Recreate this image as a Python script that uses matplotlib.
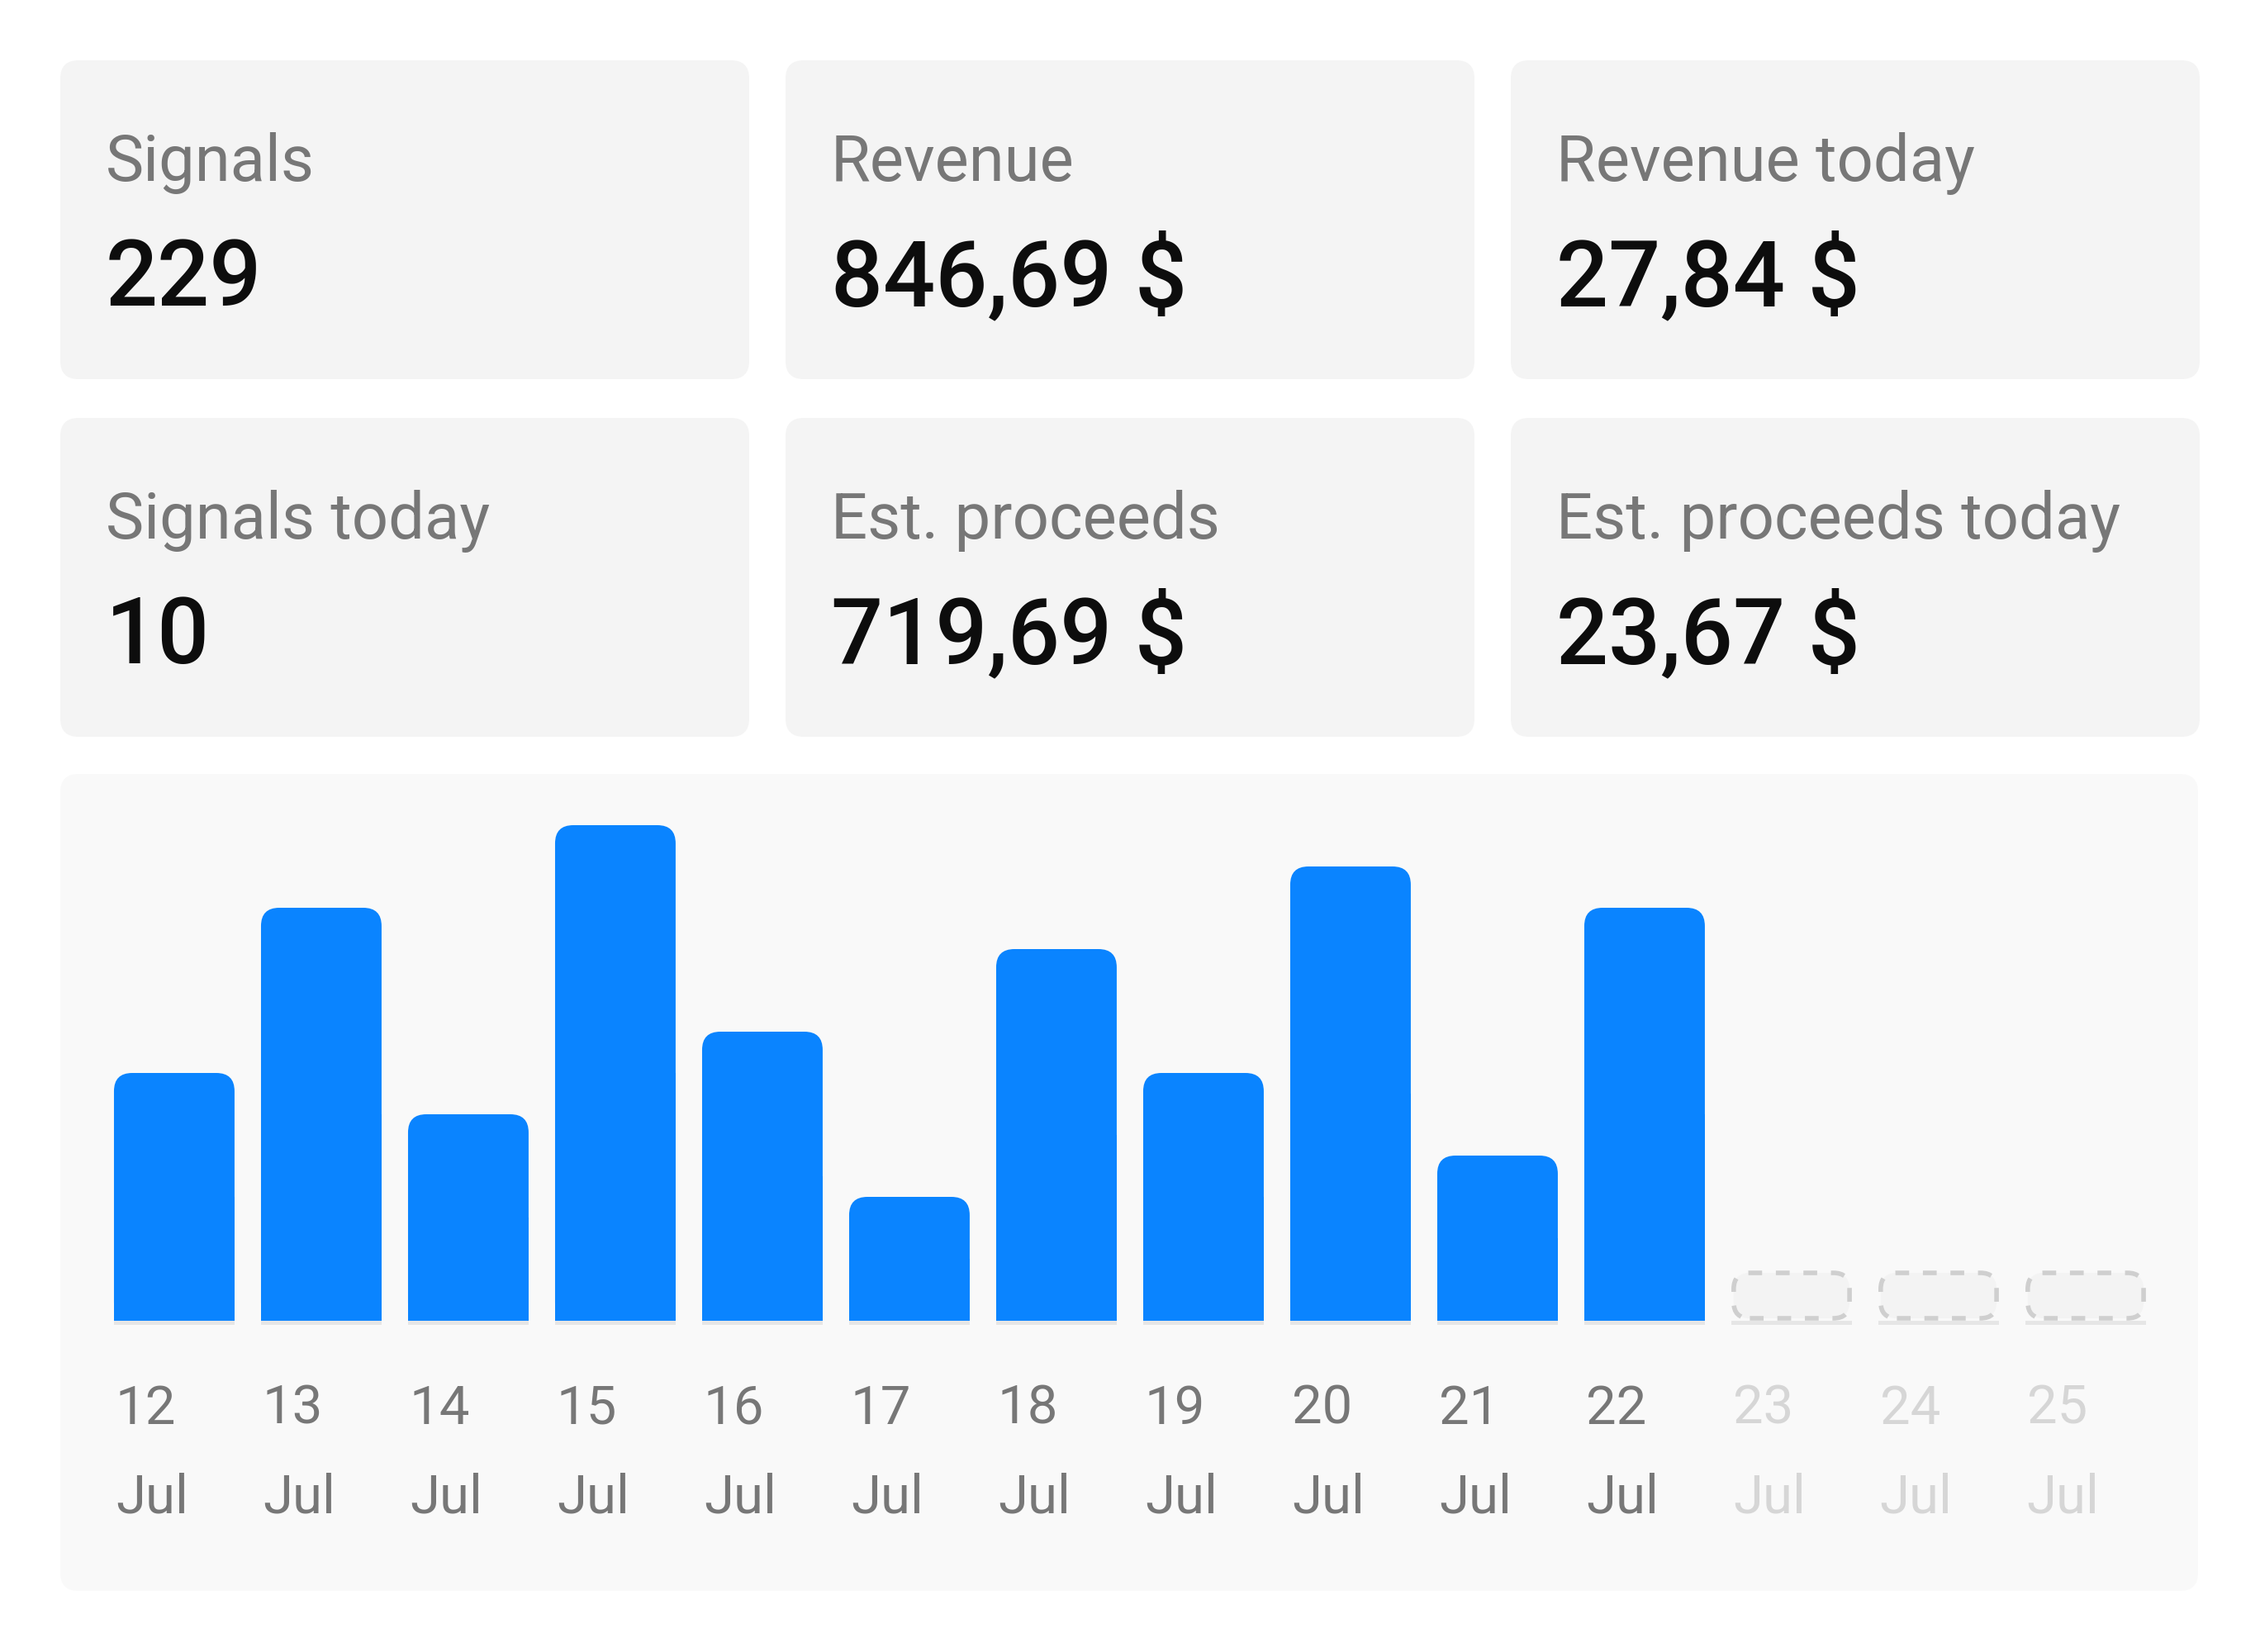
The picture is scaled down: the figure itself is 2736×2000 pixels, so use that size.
import numpy as np
import matplotlib.pyplot as plt
from matplotlib.patches import FancyBboxPatch

plt.rcParams['font.family'] = ['Roboto', 'DejaVu Sans']

# summary cards
card_labels = ['Signals', 'Revenue', 'Revenue today',
               'Signals today', 'Est. proceeds', 'Est. proceeds today']
card_values = ['229', '846,69 $', '27,84 $', '10', '719,69 $', '23,67 $']

# daily signals (days after 22 Jul have no data yet)
days = ['12', '13', '14', '15', '16', '17', '18',
        '19', '20', '21', '22', '23', '24', '25']
month = 'Jul'
signals = [6, 10, 5, 12, 7, 3, 9, 6, 11, 4, 10]

BLUE = '#0a84ff'
W, H = 2736, 2000

fig = plt.figure(figsize=(W / 100, H / 100), dpi=100)
fig.patch.set_facecolor('white')

# background layer in pixel units for the cards and the chart panel
bg = fig.add_axes([0, 0, 1, 1])
bg.set_xlim(0, W)
bg.set_ylim(H, 0)
bg.axis('off')

card_w, card_h = 834, 386
gap_x, gap_y = 44, 47
x0, y0 = 73, 73
for k, (lab, val) in enumerate(zip(card_labels, card_values)):
    r, c = divmod(k, 3)
    cx = x0 + c * (card_w + gap_x)
    cy = y0 + r * (card_h + gap_y)
    bg.add_patch(FancyBboxPatch((cx, cy), card_w, card_h,
                                boxstyle='round,pad=0,rounding_size=22',
                                fc='#f4f4f4', ec='none'))
    bg.text(cx + 55, cy + 146, lab, fontsize=56, color='#777777', va='baseline')
    bg.text(cx + 55, cy + 297, val, fontsize=80, color='#0d0d0d',
            fontweight='medium', va='baseline')

# chart panel
px0, py0, pw, ph = 73, 937, 2588, 989
bg.add_patch(FancyBboxPatch((px0, py0), pw, ph,
                            boxstyle='round,pad=0,rounding_size=22',
                            fc='#f9f9f9', ec='none'))

ax = fig.add_axes([px0 / W, 1 - (py0 + ph) / H, pw / W, ph / H])
ax.patch.set_visible(False)
ax.axis('off')
ax.set_xlim(-0.775, -0.775 + pw / 178)
ax.set_ylim(-(py0 + ph - 1599) / 50, (1599 - py0) / 50)

n = len(days)
x = np.arange(n)
bw = 0.82
asp = 178 / 50

# thin grey base under every slot
ax.bar(x, -0.1, width=bw, color='#e6e6e6', lw=0)

# bars: square lower half + rounded full-height box
nd = len(signals)
ax.bar(x[:nd], np.array(signals) / 2, width=bw, color=BLUE, lw=0)
for xi, v in zip(x[:nd], signals):
    ax.add_patch(FancyBboxPatch((xi - bw / 2, 0), bw, v,
                                boxstyle='round,pad=0,rounding_size=0.124',
                                mutation_aspect=asp, fc=BLUE, ec='none'))

# dashed placeholders for future days
for xi in x[nd:]:
    ax.add_patch(FancyBboxPatch((xi - bw / 2 + 0.016, 0.06), bw - 0.032, 1.1,
                                boxstyle='round,pad=0,rounding_size=0.11',
                                mutation_aspect=asp, fc='#f3f3f3', ec='#cfcfcf',
                                lw=4, linestyle=(0, (3.0, 3.0))))

for i, d in enumerate(days):
    col = '#777777' if i < nd else '#d6d6d6'
    ax.text(i - bw / 2 + 0.01, -2.5, d, ha='left', va='baseline', fontsize=47, color=col)
    ax.text(i - bw / 2 + 0.01, -4.66, month, ha='left', va='baseline', fontsize=47, color=col)

fig.savefig('out.png', dpi=100)
